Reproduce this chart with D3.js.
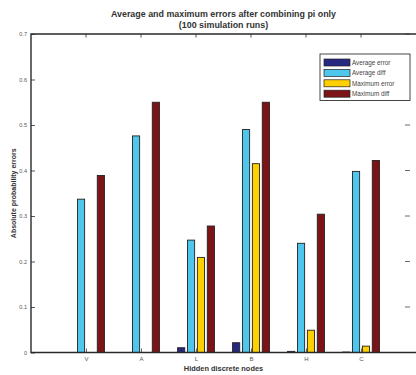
<!DOCTYPE html>
<html>
<head>
<meta charset="utf-8">
<script src="https://cdn.jsdelivr.net/npm/d3@7/dist/d3.min.js"></script>
<style>
  html, body { margin: 0; padding: 0; background: #fff; }
  svg { display: block; font-family: "Liberation Sans", Arial, Helvetica, sans-serif; }
</style>
</head>
<body>
<svg id="chart" width="416" height="375"></svg>
<script>
// Hidden discrete nodes on the x axis
const categories = ["V", "A", "L", "B", "H", "C"];

// Error measures per node (100 simulation runs)
const avgError = [0, 0, 0.0105, 0.0215, 0.0025, 0.001];
const avgDiff  = [0.337, 0.476, 0.247, 0.490, 0.240, 0.398];
const maxError = [0, 0, 0.209, 0.415, 0.049, 0.014];
const maxDiff  = [0.389, 0.550, 0.278, 0.550, 0.304, 0.422];

const seriesNames = ["Average error", "Average diff", "Maximum error", "Maximum diff"];
const seriesColors = ["#272880", "#4fc7ed", "#ffd000", "#7c1417"];
const yTicks = [0, 0.1, 0.2, 0.3, 0.4, 0.5, 0.6, 0.7];

const series = [avgError, avgDiff, maxError, maxDiff];

const svg = d3.select("#chart");
const plotL = 31, plotR = 416, plotT = 34, plotB = 352.5;

const x = d3.scaleLinear().domain([0, categories.length + 1]).range([plotL, plotR]);
const y = d3.scaleLinear().domain([0, 0.7]).range([plotB, plotT]);

// grouped bar layout in category units
const groupStep = 0.18;
const barW = x(0.13) - x(0);

// bars
series.forEach((vals, s) => {
  const off = (s - (series.length - 1) / 2) * groupStep;
  svg.append("g").selectAll("rect")
    .data(vals)
    .join("rect")
    .attr("x", (d, i) => x(i + 1 + off) - barW / 2)
    .attr("y", d => y(d))
    .attr("width", barW)
    .attr("height", d => Math.max(0, y(0) - y(d)))
    .attr("fill", seriesColors[s])
    .attr("stroke", "#222")
    .attr("stroke-width", 0.9);
});

const axisColor = "#2a2a2a";
const tickColor = "#555";

// left axis with inward ticks
const yAxis = svg.append("g")
  .attr("transform", `translate(${plotL},0)`)
  .call(d3.axisLeft(y).tickValues(yTicks).tickSize(-4).tickPadding(4)
    .tickFormat(d => d === 0 ? "0" : d3.format(".1f")(d)));
yAxis.select(".domain").remove();
yAxis.selectAll(".tick line").attr("stroke", axisColor).attr("stroke-width", 0.8);
yAxis.selectAll(".tick text").attr("fill", tickColor).attr("font-size", 5.5);

// right-side ticks
svg.append("g").selectAll("line")
  .data(yTicks.slice(1))
  .join("line")
  .attr("x1", 405).attr("x2", 410)
  .attr("y1", d => y(d)).attr("y2", d => y(d))
  .attr("stroke", "#444").attr("stroke-width", 0.8);

// bottom axis: category ticks pointing up
const xAxis = svg.append("g")
  .attr("transform", `translate(0,${plotB})`)
  .call(d3.axisBottom(x).tickValues(d3.range(1, categories.length + 1))
    .tickSize(-4).tickPadding(4).tickFormat(d => categories[d - 1]));
xAxis.select(".domain").remove();
xAxis.selectAll(".tick line").attr("stroke", "#444").attr("stroke-width", 0.8);
xAxis.selectAll(".tick text").attr("fill", tickColor).attr("font-size", 6);

// top ticks pointing down
svg.append("g").selectAll("line")
  .data(d3.range(1, categories.length + 1))
  .join("line")
  .attr("x1", d => x(d)).attr("x2", d => x(d))
  .attr("y1", plotT).attr("y2", plotT + 3.5)
  .attr("stroke", axisColor).attr("stroke-width", 0.8);

// axes frame: left, bottom, top
svg.append("path")
  .attr("d", `M${plotR},${plotT}H${plotL}V${plotB}H${plotR}`)
  .attr("fill", "none")
  .attr("stroke", axisColor)
  .attr("stroke-width", 1.4);

// title
const cx = (plotL + plotR) / 2;
svg.append("text")
  .attr("x", cx).attr("y", 17)
  .attr("text-anchor", "middle")
  .attr("font-size", 8.9).attr("font-weight", "bold").attr("fill", "#333")
  .text("Average and maximum errors after combining pi only");
svg.append("text")
  .attr("x", cx).attr("y", 28)
  .attr("text-anchor", "middle")
  .attr("font-size", 8.9).attr("font-weight", "bold").attr("fill", "#333")
  .text("(100 simulation runs)");

// axis titles
svg.append("text")
  .attr("x", cx).attr("y", 371)
  .attr("text-anchor", "middle")
  .attr("font-size", 7.4).attr("font-weight", "bold").attr("fill", "#333")
  .text("Hidden discrete nodes");
svg.append("text")
  .attr("transform", `translate(15.5,${(plotT + plotB) / 2}) rotate(-90)`)
  .attr("text-anchor", "middle")
  .attr("font-size", 7).attr("font-weight", "bold").attr("fill", "#333")
  .text("Absolute probability errors");

// legend
const lg = svg.append("g").attr("transform", "translate(320,54)");
lg.append("rect")
  .attr("x", 0).attr("y", 0).attr("width", 90).attr("height", 46.5)
  .attr("fill", "#fff").attr("stroke", "#333").attr("stroke-width", 0.9);
const rows = lg.selectAll("g.row")
  .data(seriesNames)
  .join("g")
  .attr("class", "row")
  .attr("transform", (d, i) => `translate(0,${8.5 + i * 10.4})`);
rows.append("rect")
  .attr("x", 4).attr("y", -3.5).attr("width", 26).attr("height", 7)
  .attr("fill", (d, i) => seriesColors[i])
  .attr("stroke", "#222").attr("stroke-width", 0.7);
rows.append("text")
  .attr("x", 32).attr("y", 2.2)
  .attr("font-size", 6.3).attr("fill", "#444")
  .text(d => d);
</script>
</body>
</html>
